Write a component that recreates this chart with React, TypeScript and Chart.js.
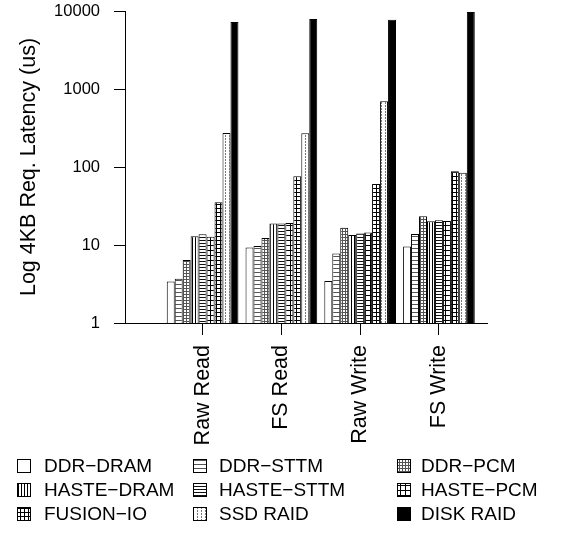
import React, { useEffect, useRef } from "react";
import { Chart, registerables } from "chart.js";

Chart.register(...registerables);

const categories = ["Raw Read", "FS Read", "Raw Write", "FS Write"];
const seriesNames = [
  "DDR\u2212DRAM",
  "DDR\u2212STTM",
  "DDR\u2212PCM",
  "HASTE\u2212DRAM",
  "HASTE\u2212STTM",
  "HASTE\u2212PCM",
  "FUSION\u2212IO",
  "SSD RAID",
  "DISK RAID",
];
const ddrDram = [3.4, 9.3, 3.45, 9.6];
const ddrSttm = [3.7, 9.7, 7.8, 13.8];
const ddrPcm = [6.4, 12.3, 16.7, 23.3];
const hasteDram = [12.9, 18.8, 13.4, 20.1];
const hasteSttm = [13.7, 18.8, 14.0, 20.7];
const hastePcm = [12.8, 19.1, 14.5, 20.3];
const fusionIo = [35.3, 76, 60.5, 88];
const ssdRaid = [273, 270, 695, 84.5];
const diskRaid = [7230, 7890, 7740, 9710];
const seriesValues = [ddrDram, ddrSttm, ddrPcm, hasteDram, hasteSttm, hastePcm, fusionIo, ssdRaid, diskRaid];
const yTicks = [1, 10, 100, 1000, 10000];

const FONT = "'Liberation Sans', Arial, Helvetica, sans-serif";

function makePattern(w: number, h: number, draw: (c: CanvasRenderingContext2D) => void): CanvasPattern | string {
  const cv = document.createElement("canvas");
  cv.width = w;
  cv.height = h;
  const c = cv.getContext("2d")!;
  c.fillStyle = "#fff";
  c.fillRect(0, 0, w, h);
  draw(c);
  const p = c.createPattern(cv, "repeat");
  return p || "#fff";
}

function buildFills(): (CanvasPattern | string)[] {
  return [
    "#ffffff",
    makePattern(1, 4, (c) => { c.fillStyle = "#555"; c.fillRect(0, 0, 1, 1); }),
    makePattern(3, 3, (c) => { c.fillStyle = "#555"; c.fillRect(0, 0, 3, 1); c.fillRect(0, 0, 1, 3); }),
    makePattern(3, 1, (c) => { c.fillStyle = "#000"; c.fillRect(0, 0, 1, 1); }),
    makePattern(1, 3, (c) => { c.fillStyle = "#111"; c.fillRect(0, 0, 1, 1); }),
    makePattern(5, 5, (c) => { c.fillStyle = "#000"; c.fillRect(0, 0, 5, 1); c.fillRect(0, 0, 1, 5); }),
    makePattern(4, 4, (c) => { c.fillStyle = "#000"; c.fillRect(0, 0, 4, 1); c.fillRect(0, 0, 1, 4); }),
    makePattern(4, 3, (c) => { c.fillStyle = "#777"; c.fillRect(1, 0, 1, 2); }),
    "#000000",
  ];
}

const legendPlugin = {
  id: "gridLegend",
  afterDraw(chart: any) {
    const ctx: CanvasRenderingContext2D = chart.ctx;
    const boxX = [17, 193, 397];
    const textX = [44, 219, 421];
    const rowY = [466, 490, 514];
    const size = 14;
    ctx.save();
    chart.data.datasets.forEach((ds: any, i: number) => {
      const col = i % 3;
      const row = Math.floor(i / 3);
      const x = boxX[col];
      const y = rowY[row];
      ctx.fillStyle = ds.backgroundColor;
      ctx.fillRect(x, y - size / 2, size, size);
      ctx.strokeStyle = "#000";
      ctx.lineWidth = 1;
      ctx.strokeRect(x + 0.5, y - size / 2 + 0.5, size - 1, size - 1);
      ctx.fillStyle = "#000";
      ctx.font = `19px ${FONT}`;
      ctx.textBaseline = "middle";
      ctx.textAlign = "left";
      ctx.fillText(ds.label, textX[col], y + 1);
    });
    ctx.restore();
  },
};

export default function App() {
  const ref = useRef<HTMLCanvasElement | null>(null);
  useEffect(() => {
    document.body.style.margin = "0";
    const fills = buildFills();
    const chart = new Chart(ref.current!, {
      type: "bar",
      data: {
        datasets: seriesNames.map((name, i) => ({
          label: name,
          data: seriesValues[i].map((v, j) => ({ x: j + 1, y: v })),
          backgroundColor: fills[i] as any,
          borderColor: "#000",
          borderWidth: 1,
          categoryPercentage: 0.91,
          barPercentage: 1,
        })),
      },
      options: {
        responsive: false,
        animation: false,
        layout: { padding: { left: 0, top: 11, right: 88, bottom: 0 } },
        plugins: { legend: { display: false }, tooltip: { enabled: false } },
        scales: {
          x: {
            type: "linear",
            min: 0.015,
            max: 4.61,
            offset: false,
            afterBuildTicks: (scale: any) => {
              scale.ticks = categories.map((_, i) => ({ value: i + 1 }));
            },
            afterFit: (scale: any) => {
              scale.height = 212;
              scale.paddingLeft = 0;
              scale.paddingRight = 0;
            },
            ticks: {
              autoSkip: false,
              minRotation: 90,
              maxRotation: 90,
              padding: 10,
              color: "#000",
              font: { family: FONT, size: 21.5 },
              callback: (v: any) => categories[Number(v) - 1] ?? "",
            },
            grid: { drawOnChartArea: false, drawTicks: true, tickLength: 12, color: "#000", offset: false },
            border: { display: true, color: "#000", width: 1 },
          },
          y: {
            type: "logarithmic",
            min: 1,
            max: 10000,
            afterBuildTicks: (scale: any) => {
              scale.ticks = yTicks.map((v) => ({ value: v }));
            },
            afterFit: (scale: any) => {
              scale.width = 125;
              scale.paddingTop = 0;
              scale.paddingBottom = 0;
            },
            ticks: {
              padding: 14,
              color: "#000",
              font: { family: FONT, size: 16.5 },
              callback: (v: any) => String(v),
            },
            grid: { drawOnChartArea: false, drawTicks: true, tickLength: 11, color: "#000" },
            border: { display: true, color: "#000", width: 1 },
            title: {
              display: true,
              text: "Log 4KB Req. Latency (us)",
              color: "#000",
              font: { family: FONT, size: 21.5 },
              padding: { top: 16, bottom: 0 },
            },
          },
        },
      },
      plugins: [legendPlugin],
    });
    return () => chart.destroy();
  }, []);
  return (
    <div style={{ position: "absolute", left: 0, top: 0, width: 575, height: 535 }}>
      <canvas ref={ref} width={575} height={535} />
    </div>
  );
}
